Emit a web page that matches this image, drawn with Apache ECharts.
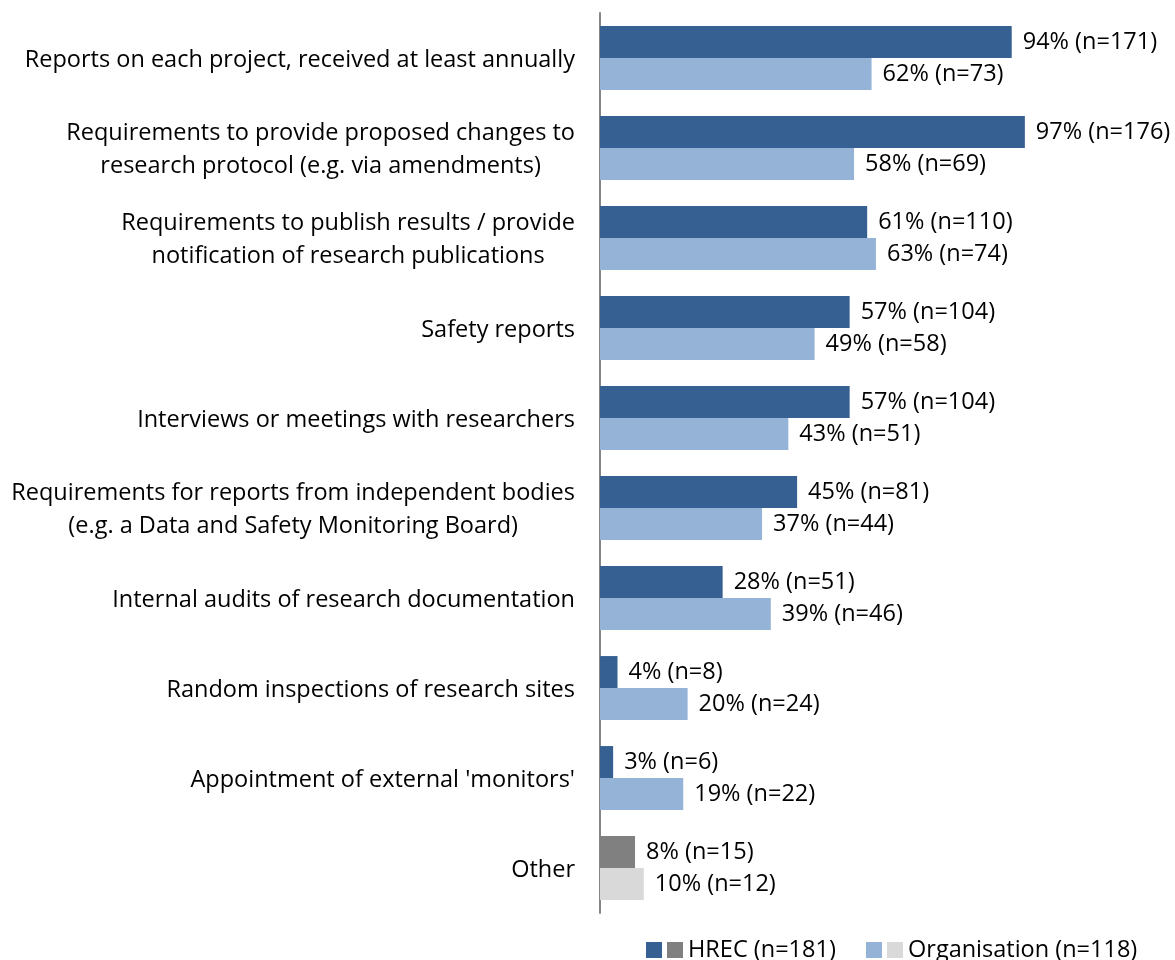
<!DOCTYPE html>
<html><head><meta charset="utf-8">
<script src="https://cdn.jsdelivr.net/npm/echarts@6/dist/echarts.min.js"></script>
<style>html,body{margin:0;padding:0;background:#fff}#c{width:1175px;height:960px}</style>
</head><body><div id="c"></div>
<script>
const categories = [
  "Reports on each project, received at least annually",
  "Requirements to provide proposed changes to\nresearch protocol (e.g. via amendments)",
  "Requirements to publish results / provide\nnotification of research publications",
  "Safety reports",
  "Interviews or meetings with researchers",
  "Requirements for reports from independent bodies\n(e.g. a Data and Safety Monitoring Board)",
  "Internal audits of research documentation",
  "Random inspections of research sites",
  "Appointment of external 'monitors'",
  "Other"
];
const hrecPct = [94, 97, 61, 57, 57, 45, 28, 4, 3, 8];
const hrecN   = [171, 176, 110, 104, 104, 81, 51, 8, 6, 15];
const orgPct  = [62, 58, 63, 49, 43, 37, 39, 20, 19, 10];
const orgN    = [73, 69, 74, 58, 51, 44, 46, 24, 22, 12];
const seriesNames = ["HREC (n=181)", "Organisation (n=118)"];

const FONT = "Open Sans";
const FS = 23.5;
const C_HREC = "#376092", C_HREC_O = "#808080", C_ORG = "#95B3D7", C_ORG_O = "#D9D9D9";
const lastIdx = categories.length - 1;

function mk(pcts, ns, col, colOther) {
  return pcts.map((v, i) => ({
    value: v, n: ns[i],
    itemStyle: { color: i === lastIdx ? colOther : col }
  }));
}

const chart = echarts.init(document.getElementById('c'));
const labelCfg = {
  show: true, position: 'right', distance: 11,
  fontFamily: FONT, fontSize: FS, color: '#000',
  formatter: p => p.value + '% (n=' + p.data.n + ')'
};
chart.setOption({
  animation: false,
  grid: { left: 600, top: 13, bottom: 47, width: 438 },
  xAxis: { type: 'value', min: 0, max: 100, show: false },
  yAxis: {
    type: 'category', data: categories, inverse: true,
    axisLine: { lineStyle: { color: '#868686', width: 2 } },
    axisTick: { show: false },
    axisLabel: {
      fontFamily: FONT, fontSize: FS, color: '#000', margin: 25, align: 'right', lineHeight: 33,
      padding: [4, 0, 0, 0],
      formatter: v => v.split('\n').map(s => '{c|' + s + '}').join('\n'),
      rich: { c: { fontFamily: FONT, fontSize: FS, color: '#000', align: 'center', lineHeight: 33 } }
    }
  },
  series: [
    { name: seriesNames[0], type: 'bar', data: mk(hrecPct, hrecN, C_HREC, C_HREC_O),
      barGap: '0%', barCategoryGap: '29%', label: labelCfg },
    { name: seriesNames[1], type: 'bar', data: mk(orgPct, orgN, C_ORG, C_ORG_O),
      label: labelCfg }
  ],
  graphic: [
    { type: 'rect', left: 646, top: 942, shape: { width: 16, height: 16 }, style: { fill: C_HREC } },
    { type: 'rect', left: 667, top: 942, shape: { width: 16, height: 16 }, style: { fill: C_HREC_O } },
    { type: 'text', left: 688, top: 938, style: { text: seriesNames[0], font: FS + 'px "' + FONT + '"', fill: '#000' } },
    { type: 'rect', left: 866, top: 942, shape: { width: 16, height: 16 }, style: { fill: C_ORG } },
    { type: 'rect', left: 887, top: 942, shape: { width: 16, height: 16 }, style: { fill: C_ORG_O } },
    { type: 'text', left: 908, top: 938, style: { text: seriesNames[1], font: FS + 'px "' + FONT + '"', fill: '#000' } }
  ]
});
</script></body></html>
